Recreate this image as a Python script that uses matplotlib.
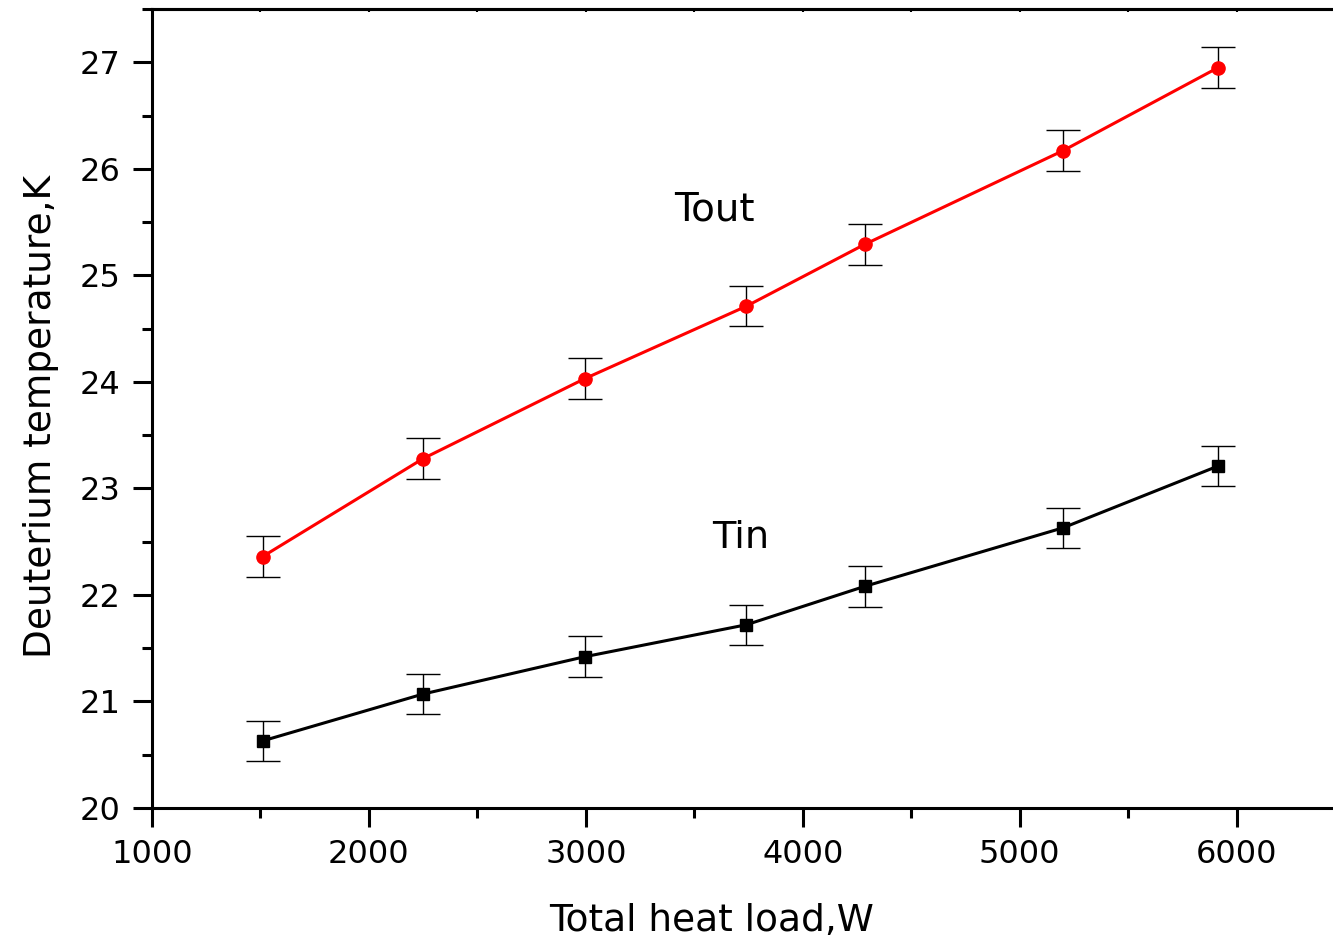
import matplotlib
matplotlib.use("Agg")
import matplotlib.pyplot as plt
from matplotlib.ticker import MultipleLocator

plt.rcParams['font.family'] = ['DejaVu Sans']

heat_load = [1510, 2250, 2995, 3740, 4285, 5200, 5915]
t_out = [22.36, 23.28, 24.03, 24.71, 25.29, 26.17, 26.95]
t_in = [20.63, 21.07, 21.42, 21.72, 22.08, 22.63, 23.21]
err_out = [0.19, 0.19, 0.19, 0.19, 0.19, 0.19, 0.19]
err_in = [0.19, 0.19, 0.19, 0.19, 0.19, 0.19, 0.19]

fig = plt.figure(figsize=(13.33, 9.41), dpi=100)
ax = fig.add_axes([152/1333, 1-808/941, (1345-152)/1333, (808-9)/941])

ax.errorbar(heat_load, t_out, yerr=err_out, fmt='none', ecolor='black',
            elinewidth=1.0, capsize=12.5, capthick=1.0, zorder=2)
ax.plot(heat_load, t_out, color='#ff0000', lw=2.2, marker='o', ms=9.5,
        markerfacecolor='#ff0000', markeredgecolor='#ff0000', zorder=3)
ax.errorbar(heat_load, t_in, yerr=err_in, fmt='none', ecolor='black',
            elinewidth=1.0, capsize=12.5, capthick=1.0, zorder=2)
ax.plot(heat_load, t_in, color='black', lw=2.2, marker='s', ms=8,
        markerfacecolor='black', markeredgecolor='black', zorder=3)

ax.text(3592, 25.517, 'Tout', fontsize=28, ha='center', va='baseline')
ax.text(3716, 22.444, 'Tin', fontsize=27.5, ha='center', va='baseline')

ax.set_xlim(1000, 6500)
ax.set_ylim(20, 27.5)
ax.set_xticks([1000, 2000, 3000, 4000, 5000, 6000])
ax.set_yticks([20, 21, 22, 23, 24, 25, 26, 27])
ax.xaxis.set_minor_locator(MultipleLocator(500))
ax.yaxis.set_minor_locator(MultipleLocator(0.5))

for s in ax.spines.values():
    s.set_linewidth(2.2)
ax.spines['right'].set_visible(False)

ax.tick_params(which='major', direction='out', length=13.5, width=2.2,
               labelsize=23, pad=9, top=False, right=False)
ax.tick_params(which='minor', direction='out', length=7, width=2.2,
               top=False, right=False)

sec = ax.secondary_xaxis('top')
sec.set_xticks([1000, 2000, 3000, 4000, 5000, 6000])
sec.xaxis.set_minor_locator(MultipleLocator(500))
sec.tick_params(which='both', direction='in', length=2.5, width=1.5,
                labeltop=False)
sec.spines['top'].set_linewidth(2.2)

ax.set_xlabel('Total heat load,W', fontsize=27)
ax.set_ylabel('Deuterium temperature,K', fontsize=27)
ax.xaxis.set_label_coords((712-152)/1193, (808-903)/799)
ax.yaxis.set_label_coords((59-152)/1193, 0.49)

fig.savefig('out.png', dpi=100)
